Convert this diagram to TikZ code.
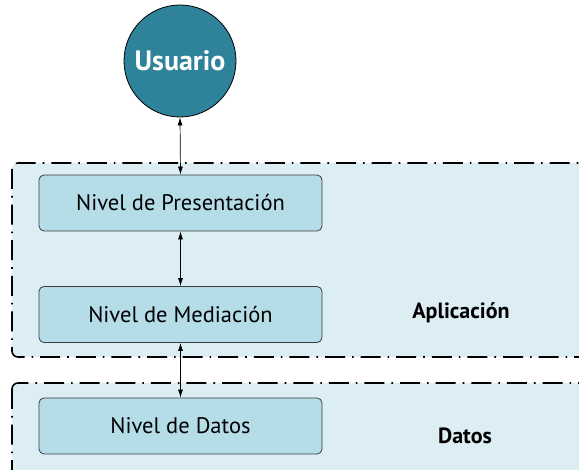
\documentclass[tikz,border=0pt]{standalone}
\usepackage{fontspec}
\setmainfont{PT Sans}
\usetikzlibrary{arrows.meta}
\definecolor{grpfill}{RGB}{220,238,244}
\definecolor{boxfill}{RGB}{180,221,231}
\definecolor{userfill}{RGB}{46,130,153}
\definecolor{boxline}{RGB}{60,60,60}
\begin{document}
\begin{tikzpicture}[x=1pt,y=-1pt,
  group/.style={fill=grpfill, draw=black, line width=1.6pt, rounded corners=6pt,
    dash pattern=on 20pt off 7pt on 1.6pt off 7pt},
  layerbox/.style={draw=boxline, fill=boxfill, line width=0.8pt, rounded corners=5pt,
    minimum width=283pt, minimum height=56pt, inner sep=0pt,
    font=\fontsize{22.5}{26}\selectfont},
  user/.style={circle, draw=black, line width=0.8pt, fill=userfill, minimum size=112pt,
    inner sep=0pt, text=white, font=\fontsize{28}{32}\selectfont\bfseries},
  grouplabel/.style={font=\fontsize{22}{26}\selectfont\bfseries},
  link/.style={line width=0.7pt, {Latex[length=8pt,width=5pt]}-{Latex[length=8pt,width=5pt]}}
]
\useasboundingbox (0,0) rectangle (579,470);
\clip (0,0) rectangle (579,470);
\draw[group] (12,163) rectangle (620,357);
\draw[group] (12,383) rectangle (620,520);
\node[user] (usr) at (180,61) {Usuario};
\node[layerbox] (pres) at (180.5,203) {Nivel de Presentación};
\node[layerbox] (med) at (180.5,314.5) {Nivel de Mediación};
\node[layerbox] (dat) at (180.5,426) {Nivel de Datos};
\node[grouplabel] (lapp) at (461,313) {Aplicación};
\node[grouplabel] (ldat) at (465,436) {Datos};
\draw[link] (usr.south) -- (pres.north);
\draw[link] (pres.south) -- (med.north);
\draw[link] (med.south) -- (dat.north);
\end{tikzpicture}
\end{document}
